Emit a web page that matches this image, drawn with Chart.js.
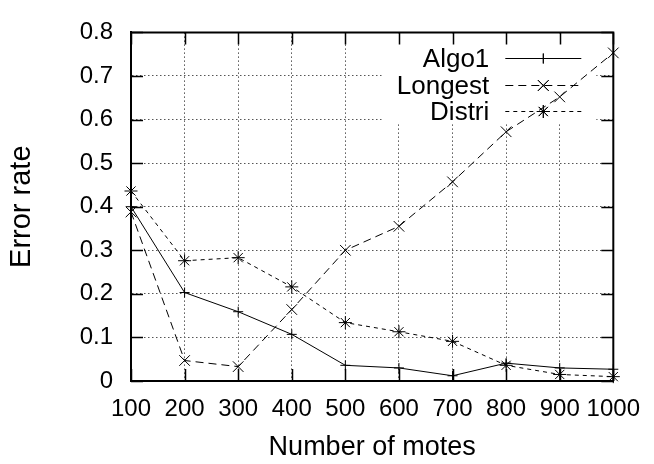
<!DOCTYPE html>
<html>
<head>
<meta charset="utf-8">
<script src="https://cdn.jsdelivr.net/npm/chart.js@4"></script>
<style>
  html, body { margin: 0; padding: 0; background: #fff; }
  canvas { display: block; }
</style>
</head>
<body>
<canvas id="c" width="654" height="464"></canvas>
<script>
// Error rate per network size for the three algorithms
const motes   = [100, 200, 300, 400, 500, 600, 700, 800, 900, 1000];
const algo1   = [0.400, 0.203, 0.159, 0.107, 0.036, 0.030, 0.012, 0.041, 0.030, 0.027];
const longest = [0.388, 0.047, 0.033, 0.164, 0.300, 0.355, 0.457, 0.572, 0.652, 0.753];
const distri  = [0.436, 0.276, 0.283, 0.216, 0.134, 0.113, 0.091, 0.036, 0.015, 0.010];

const seriesNames = ['Algo1', 'Longest', 'Distri'];
const xTickLabels = ['100', '200', '300', '400', '500', '600', '700', '800', '900', '1000'];
const yTickValues = [0, 0.1, 0.2, 0.3, 0.4, 0.5, 0.6, 0.7, 0.8];
const yTickLabels = ['0', '0.1', '0.2', '0.3', '0.4', '0.5', '0.6', '0.7', '0.8'];

const FONT = "'Liberation Sans', Arial, Helvetica, sans-serif";
Chart.defaults.font.family = FONT;
Chart.defaults.color = '#000';

function pairs(xs, ys) { return xs.map((x, i) => ({ x: x, y: ys[i] })); }

// Marker for the in-plot key, drawn with the library's own point renderer
function marker(ctx, style, r, x, y) {
  if (Chart.helpers && Chart.helpers.drawPoint) {
    Chart.helpers.drawPoint(ctx, { pointStyle: style, radius: r, rotation: 0, borderWidth: 1 }, x, y);
    ctx.stroke();
  }
}

// Gnuplot-style frame: inward ticks on every side, closed border, boxed key
const frame = {
  id: 'frame',
  beforeDatasetsDraw(chart) {
    const { ctx, chartArea: a } = chart;
    ctx.save();
    ctx.fillStyle = '#fff';
    ctx.fillRect(a.right - 231, a.top + 1, 214, 89);
    ctx.restore();
  },
  afterDatasetsDraw(chart) {
    const { ctx, chartArea: a, scales } = chart;
    const xs = scales.x, ys = scales.y;
    const T = 12;
    ctx.save();
    ctx.strokeStyle = '#000';
    ctx.lineWidth = 1.5;
    ctx.setLineDash([]);
    ctx.beginPath();
    xs.ticks.forEach(t => {
      const px = Math.round(xs.getPixelForValue(t.value)) + 0.5;
      ctx.moveTo(px, a.bottom); ctx.lineTo(px, a.bottom - T);
      ctx.moveTo(px, a.top);    ctx.lineTo(px, a.top + T);
    });
    ys.ticks.forEach(t => {
      const py = Math.round(ys.getPixelForValue(t.value)) + 0.5;
      ctx.moveTo(a.left, py);  ctx.lineTo(a.left + T, py);
      ctx.moveTo(a.right, py); ctx.lineTo(a.right - T, py);
    });
    ctx.stroke();

    ctx.lineWidth = 2;
    ctx.beginPath();
    ctx.moveTo(a.left, a.top);
    ctx.lineTo(a.right, a.top);
    ctx.lineTo(a.right, a.bottom);
    ctx.stroke();

    // key
    const textRight = a.right - 124;
    const lineL = a.right - 108, lineR = a.right - 32, mx = a.right - 70;
    ctx.font = '26px ' + FONT;
    ctx.textAlign = 'right';
    ctx.textBaseline = 'middle';
    ctx.fillStyle = '#000';
    chart.data.datasets.forEach((ds, i) => {
      const rowY = Math.round(a.top + 25.5 + i * 26.7) + 0.5;
      ctx.fillText(ds.label, textRight, rowY + 1);
      ctx.lineWidth = 1;
      ctx.setLineDash(ds.borderDash || []);
      ctx.beginPath();
      ctx.moveTo(lineL, rowY); ctx.lineTo(lineR, rowY);
      ctx.stroke();
      ctx.setLineDash([]);
      ctx.beginPath();
      marker(ctx, ds.pointStyle, ds.pointRadius, mx, rowY);
    });
    ctx.restore();
  }
};

const common = {
  borderColor: '#000',
  borderWidth: 1,
  pointBorderColor: '#000',
  pointBackgroundColor: 'rgba(0,0,0,0)',
  pointBorderWidth: 1,
  pointHoverRadius: 0,
  tension: 0,
  fill: false,
  clip: 12
};

new Chart(document.getElementById('c'), {
  type: 'line',
  data: {
    datasets: [
      Object.assign({}, common, { label: seriesNames[0], data: pairs(motes, algo1),
        borderDash: [], pointStyle: 'cross', pointRadius: 5 }),
      Object.assign({}, common, { label: seriesNames[1], data: pairs(motes, longest),
        borderDash: [8, 5], pointStyle: 'crossRot', pointRadius: 7.5 }),
      Object.assign({}, common, { label: seriesNames[2], data: pairs(motes, distri),
        borderDash: [4, 4], pointStyle: 'star', pointRadius: 6.5 })
    ]
  },
  options: {
    responsive: false,
    animation: false,
    devicePixelRatio: 1,
    layout: { padding: { top: 17, right: 33, left: 0, bottom: 0 } },
    plugins: { legend: { display: false }, tooltip: { enabled: false } },
    events: [],
    scales: {
      x: {
        type: 'linear',
        min: 100, max: 1000,
        afterBuildTicks: s => { s.ticks = motes.map(v => ({ value: v })); },
        afterFit: s => { s.height = 83; },
        grid: { color: '#555', lineWidth: 1, drawTicks: false },
        border: { display: true, color: '#000', width: 2, dash: [1.5, 2.5] },
        ticks: {
          autoSkip: false, maxRotation: 0, padding: 14,
          font: { size: 24 },
          callback: v => xTickLabels[motes.indexOf(v)]
        },
        title: { display: true, text: 'Number of motes', font: { size: 27 }, padding: { top: 0, bottom: 0 } }
      },
      y: {
        type: 'linear',
        min: 0, max: 0.8,
        afterBuildTicks: s => { s.ticks = yTickValues.map(v => ({ value: v })); },
        afterFit: s => { s.width = 131; },
        grid: { color: '#555', lineWidth: 1, drawTicks: false },
        border: { display: true, color: '#000', width: 2, dash: [1.5, 2.5] },
        ticks: {
          autoSkip: false, padding: 18,
          font: { size: 24 },
          callback: v => yTickLabels[yTickValues.indexOf(v)]
        },
        title: { display: true, text: 'Error rate', font: { size: 29 }, padding: { top: 5, bottom: 0 } }
      }
    }
  },
  plugins: [frame]
});
</script>
</body>
</html>
